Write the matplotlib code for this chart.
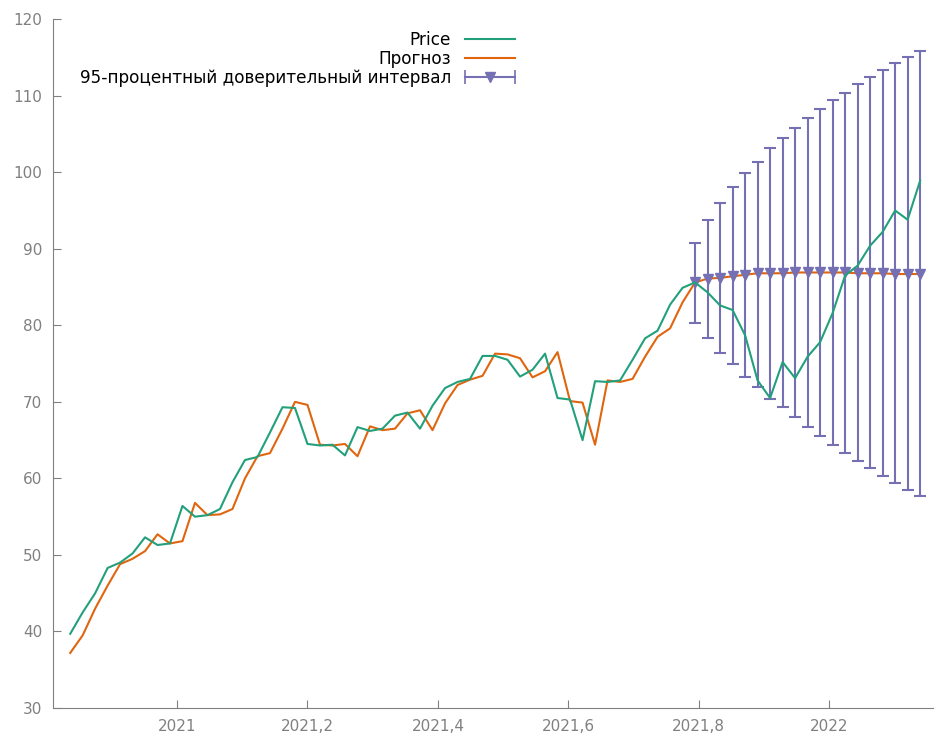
import numpy as np
import pandas as pd
import matplotlib
matplotlib.use("Agg")
import matplotlib.pyplot as plt
from matplotlib.ticker import FuncFormatter, MultipleLocator
from matplotlib.legend_handler import HandlerErrorbar

# weekly observations
dates = pd.date_range("2020-11-02", periods=69, freq="W-MON")

price = [39.7, 42.5, 45.0, 48.3, 49.0, 50.2, 52.3, 51.3, 51.5, 56.4,
         55.0, 55.2, 56.0, 59.5, 62.4, 62.8, 66.0, 69.3, 69.2, 64.5,
         64.3, 64.4, 63.0, 66.7, 66.2, 66.5, 68.2, 68.6, 66.5, 69.5,
         71.8, 72.6, 73.0, 76.0, 76.0, 75.5, 73.3, 74.2, 76.3, 70.5,
         70.3, 65.0, 72.7, 72.6, 72.8, 75.5, 78.3, 79.3, 82.7, 84.9,
         85.6, 84.3, 82.6, 82.0, 78.7, 72.8, 70.5, 75.2, 73.1, 75.9,
         77.8, 81.6, 86.5, 87.8, 90.4, 92.2, 95.0, 93.8, 98.9]

# in-sample one-step predictions, then the out-of-sample forecast
fitted = [37.2, 39.5, 43.0, 46.0, 48.8, 49.5, 50.5, 52.7, 51.5, 51.8,
          56.8, 55.2, 55.3, 56.0, 60.0, 62.9, 63.3, 66.5, 70.0, 69.6,
          64.4, 64.3, 64.5, 62.9, 66.8, 66.3, 66.5, 68.5, 68.9, 66.3,
          69.8, 72.2, 72.9, 73.4, 76.3, 76.2, 75.7, 73.2, 74.0, 76.5,
          70.1, 69.9, 64.4, 72.8, 72.6, 73.0, 75.9, 78.5, 79.6, 83.0]
forecast = [85.6, 86.1, 86.2, 86.4, 86.6, 86.8, 86.8, 86.8, 86.9, 86.9,
            86.9, 86.9, 86.9, 86.8, 86.8, 86.8, 86.7, 86.7, 86.7]
ci_upper = [90.7, 93.7, 96.0, 98.1, 99.9, 101.4, 103.1, 104.5, 105.8, 107.1,
            108.2, 109.4, 110.4, 111.5, 112.4, 113.3, 114.3, 115.1, 115.9]
ci_lower = [80.3, 78.3, 76.4, 75.0, 73.3, 71.9, 70.4, 69.3, 68.0, 66.7,
            65.5, 64.3, 63.3, 62.3, 61.3, 60.3, 59.4, 58.5, 57.7]

# decimal years for the x axis
days_in_year = np.where(dates.is_leap_year, 366, 365)
x = np.asarray(dates.year + (dates.dayofyear - 1) / days_in_year, dtype=float)
x_fc = x[len(fitted):]
pred = fitted + forecast

green, orange, purple = "#22a07c", "#e0650f", "#7570b3"
grey = "#808080"

fig = plt.figure(figsize=(9.34, 7.36), dpi=100)
ax = fig.add_axes([0.057, 0.038, 0.943, 0.936])

line_pred, = ax.plot(x, pred, color=orange, lw=1.5, label="Прогноз", zorder=2)
fc = np.array(forecast)
yerr = [fc - np.array(ci_lower), np.array(ci_upper) - fc]
ax.errorbar(x_fc, forecast, yerr=yerr, fmt="v", color=purple, ms=7.5,
            elinewidth=1.5, capsize=4, capthick=1.5, zorder=3)
line_price, = ax.plot(x, price, color=green, lw=1.5, label="Price", zorder=4)

# legend key for the interval: horizontal bar with end caps
proxy = ax.errorbar([np.nan], [np.nan], xerr=[1], fmt="v", linestyle="-",
                    color=purple, ms=7.5, elinewidth=1.2, capsize=5,
                    capthick=1.2)

handlelength = 3.0
ax.legend([line_price, line_pred, proxy],
          ["Price", "Прогноз", "95-процентный доверительный интервал"],
          handler_map={proxy: HandlerErrorbar(xerr_size=handlelength / 2)},
          loc="upper right", bbox_to_anchor=(0.542, 1.005), frameon=False,
          markerfirst=False, fontsize=12.2, handlelength=handlelength,
          handletextpad=0.8, labelspacing=0.05)

ax.set_xlim(2020.81, 2022.161)
ax.set_ylim(30, 120)
ax.xaxis.set_major_locator(MultipleLocator(0.2))
ax.yaxis.set_major_locator(MultipleLocator(10))
ax.xaxis.set_major_formatter(FuncFormatter(
    lambda v, p: f"{v:.1f}".rstrip("0").rstrip(".").replace(".", ",")))

for s in ["top", "right"]:
    ax.spines[s].set_visible(False)
for s in ["left", "bottom"]:
    ax.spines[s].set_color(grey)
ax.tick_params(direction="in", length=6, color=grey, labelcolor=grey,
               labelsize=11, pad=8)

fig.savefig("out.png", dpi=100)
